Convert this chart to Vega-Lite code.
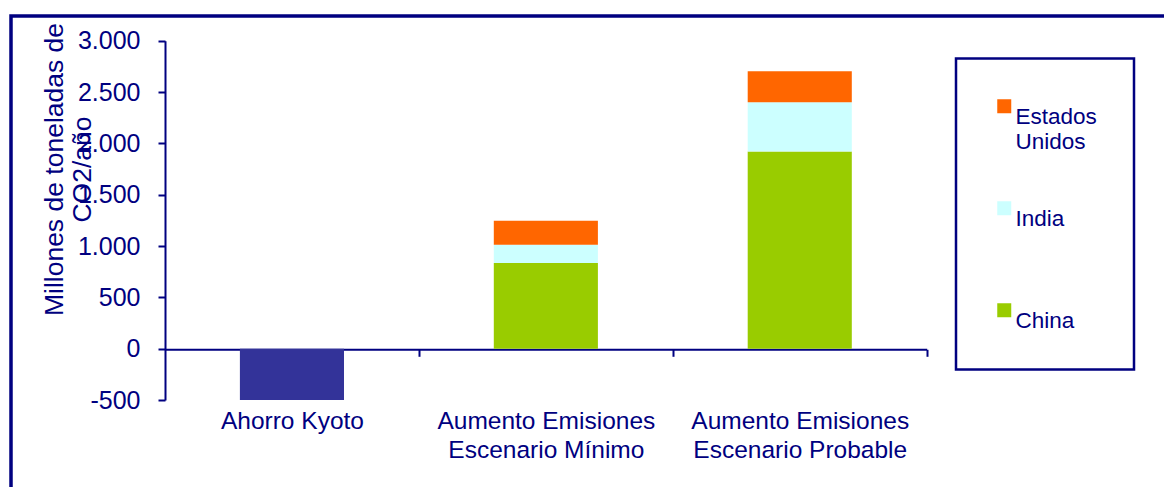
{
  "$schema": "https://vega.github.io/schema/vega-lite/v6.json",
  "width": 1160,
  "height": 480,
  "autosize": {"type": "none"},
  "padding": {"left": 11, "top": 16, "right": 0, "bottom": 0},
  "background": "white",
  "config": {
    "font": "Liberation Sans",
    "view": {"stroke": "#000080", "strokeWidth": 3.5},
    "axis": {"grid": false},
    "legend": {"strokeWidth": 2.5}
  },
  "datasets": {
    "kyoto": [
      {"cat": "Ahorro Kyoto", "valor": -500}
    ],
    "aumento": [
      {"cat": "Aumento Emisiones Escenario Mínimo", "pais": "China", "valor": 835, "orden": 1},
      {"cat": "Aumento Emisiones Escenario Mínimo", "pais": "India", "valor": 178, "orden": 2},
      {"cat": "Aumento Emisiones Escenario Mínimo", "pais": "Estados Unidos", "valor": 234, "orden": 3},
      {"cat": "Aumento Emisiones Escenario Probable", "pais": "China", "valor": 1920, "orden": 1},
      {"cat": "Aumento Emisiones Escenario Probable", "pais": "India", "valor": 481, "orden": 2},
      {"cat": "Aumento Emisiones Escenario Probable", "pais": "Estados Unidos", "valor": 301, "orden": 3}
    ]
  },
  "encoding": {
    "x": {
      "field": "cat",
      "type": "nominal",
      "sort": ["Ahorro Kyoto", "Aumento Emisiones Escenario Mínimo", "Aumento Emisiones Escenario Probable"],
      "scale": {"range": [154, 915.7], "paddingInner": 0.59, "paddingOuter": 0.295},
      "axis": {
        "orient": "bottom",
        "offset": -146.7,
        "title": null,
        "tickOffset": 127,
        "labelOffset": -127,
        "domainColor": "#000080",
        "domainWidth": 2,
        "tickColor": "#000080",
        "tickWidth": 2,
        "tickSize": 7,
        "labelAngle": 0,
        "labelPadding": 53,
        "labelBaseline": "top",
        "labelFontSize": 24.5,
        "labelLineHeight": 29,
        "labelColor": "#000080",
        "labelLimit": 300,
        "labelExpr": "datum.value == 'Aumento Emisiones Escenario Mínimo' ? ['Aumento Emisiones', 'Escenario Mínimo'] : datum.value == 'Aumento Emisiones Escenario Probable' ? ['Aumento Emisiones', 'Escenario Probable'] : datum.value"
      }
    },
    "y": {
      "field": "valor",
      "type": "quantitative",
      "scale": {"domain": [-500, 3000], "range": [384, 24.7], "nice": false, "zero": false},
      "axis": {
        "offset": -154,
        "values": [-500, 0, 500, 1000, 1500, 2000, 2500, 3000],
        "domainColor": "#000080",
        "domainWidth": 2,
        "tickColor": "#000080",
        "tickWidth": 2,
        "tickSize": 7,
        "labelPadding": 18,
        "labelFontSize": 25,
        "labelColor": "#000080",
        "labelExpr": "replace(replace(format(datum.value, ','), ',', '.'), '−', '-')",
        "title": ["Millones de toneladas de", "CO2/año"],
        "titleFontSize": 26.5,
        "titleFontWeight": "normal",
        "titleColor": "#000080",
        "titleAngle": -90,
        "titleAlign": "center",
        "titleBaseline": "alphabetic",
        "titleLineHeight": 28.5,
        "titleX": -103,
        "titleY": 153
      }
    }
  },
  "layer": [
    {
      "data": {"name": "kyoto"},
      "mark": {"type": "bar", "color": "#333399"}
    },
    {
      "data": {"name": "aumento"},
      "mark": {"type": "bar"},
      "encoding": {
        "order": {"field": "orden", "type": "quantitative"},
        "color": {
          "field": "pais",
          "type": "nominal",
          "scale": {"domain": ["Estados Unidos", "India", "China"], "range": ["#FF6600", "#CCFFFF", "#99CC00"]},
          "legend": {
            "orient": "none",
            "legendX": 945,
            "legendY": 42.5,
            "title": null,
            "symbolType": "square",
            "symbolSize": 196,
            "symbolStrokeWidth": 0,
            "symbolOpacity": 1,
            "symbolOffset": 0.5,
            "labelFontSize": 22.5,
            "labelColor": "#000080",
            "labelOffset": 0,
            "labelBaseline": "top",
            "labelLineHeight": 25,
            "labelExpr": "datum.label == 'Estados Unidos' ? ['Estados', 'Unidos'] : datum.label",
            "strokeColor": "#000080",
            "padding": 36.5,
            "rowPadding": 43,
            "gridAlign": "all"
          }
        }
      }
    }
  ]
}
